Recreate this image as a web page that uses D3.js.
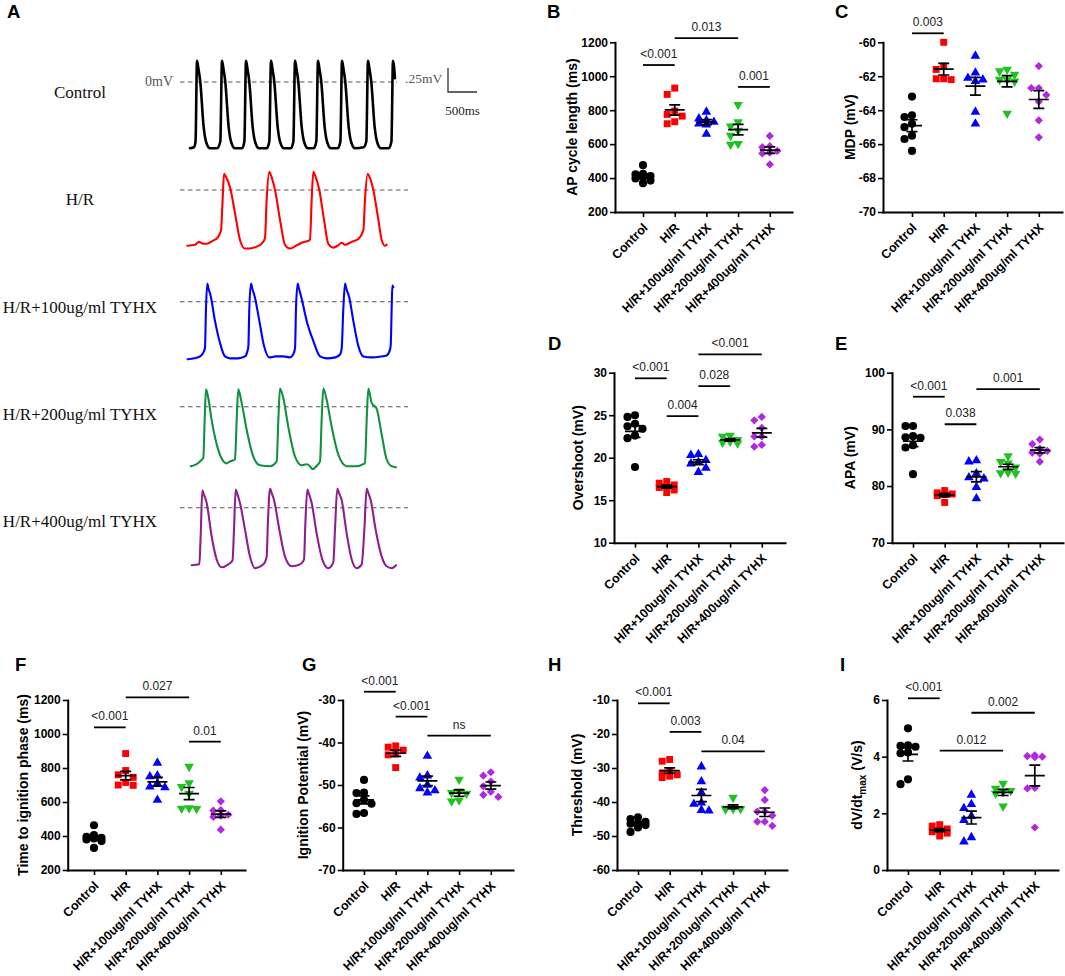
<!DOCTYPE html>
<html><head><meta charset="utf-8">
<script src="https://cdn.jsdelivr.net/npm/d3@7"></script>
<style>
body{margin:0;background:#fff}
svg{display:block}
text{font-family:"Liberation Sans",Arial,sans-serif}
</style>
</head><body>
<svg id="c" width="1065" height="976"></svg>
<script>
// ---------------- DATA ----------------
const groups = ["Control","H/R","H/R+100ug/ml TYHX","H/R+200ug/ml TYHX","H/R+400ug/ml TYHX"];

// Panel A traces: [time (ms), membrane potential (mV)]
const controlTrace = [
[172,-69],[240,-68],[268,-62],[293,22],[315,15],[350,0],[408,-47],[453,-63],[517,-69],[640,-69],[695,-62],
[724,22],[746,15],[781,0],[839,-47],[884,-63],[948,-69],[1070,-69],[1110,-62],
[1138,22],[1160,15],[1195,0],[1253,-47],[1298,-63],[1362,-69],[1495,-69],[1540,-62],
[1569,22],[1591,15],[1626,0],[1684,-47],[1729,-63],[1793,-69],[1910,-69],[1955,-62],
[1983,22],[2005,15],[2040,0],[2098,-47],[2143,-63],[2207,-69],[2305,-69],[2350,-62],
[2379,22],[2401,15],[2436,0],[2494,-47],[2539,-63],[2603,-69],[2720,-69],[2765,-62],
[2793,22],[2815,15],[2850,0],[2908,-47],[2953,-63],[3017,-69],[3165,-68],[3212,-62],
[3241,22],[3263,15],[3298,0],[3356,-47],[3401,-63],[3465,-69],[3600,-69],[3645,-62],
[3672,22],[3690,16],[3705,4]];
const hrTrace = [
[126,-58],[260,-57],[328,-54],[400,-56],[460,-56],[560,-53],[655,-49],[707,-42],[735,-10],[759,17],[790,14],[862,3],[948,-24],[1034,-52],[1121,-61],[1200,-61],[1322,-59],[1420,-55],[1465,-50],[1494,-10],[1540,19],[1570,15],[1638,0],[1724,-31],[1810,-57],[1896,-61],[2000,-58],[2098,-55],[2241,-52],[2270,-10],[2299,19],[2330,15],[2402,0],[2483,-31],[2557,-56],[2643,-60],[2720,-58],[2787,-55],[2845,-57],[2960,-54],[3074,-51],[3161,-42],[3189,-10],[3236,17],[3265,14],[3333,0],[3420,-31],[3477,-52],[3534,-58],[3563,-57]];
const t100Trace = [
[132,-60],[250,-59],[345,-57],[410,-52],[431,-48],[448,-7],[471,19],[490,14],[529,6],[603,-20],[690,-43],[776,-57],[862,-59],[1000,-59],[1121,-57],[1160,-52],[1178,-47],[1195,-7],[1224,19],[1245,14],[1293,4],[1368,-20],[1448,-46],[1540,-58],[1650,-57],[1781,-57],[1896,-58],[1965,-53],[1983,-48],[2000,-7],[2029,19],[2050,14],[2098,3],[2184,-20],[2299,-41],[2414,-57],[2529,-59],[2680,-58],[2759,-55],[2787,-49],[2816,-7],[2845,19],[2866,14],[2919,4],[2988,-20],[3074,-46],[3161,-57],[3300,-58],[3470,-57],[3563,-56],[3615,-51],[3632,-46],[3649,-7],[3661,17],[3678,15]];
const t200Trace = [
[184,-62],[280,-60],[345,-57],[402,-53],[425,-14],[448,18],[488,9],[546,-14],[632,-39],[718,-54],[804,-59],[862,-57],[948,-55],[977,-14],[1005,18],[1063,4],[1149,-24],[1264,-52],[1379,-61],[1552,-62],[1667,-57],[1695,-14],[1724,19],[1781,9],[1867,-21],[1983,-52],[2098,-61],[2184,-60],[2240,-62],[2287,-65],[2350,-62],[2414,-57],[2442,-14],[2471,19],[2529,7],[2615,-21],[2730,-50],[2874,-62],[3017,-62],[3189,-59],[3218,-14],[3247,19],[3304,4],[3390,-2],[3477,-29],[3563,-55],[3649,-62],[3724,-63]];
const t400Trace = [
[201,-60],[333,-59],[356,-30],[385,18],[410,14],[460,5],[546,-30],[632,-54],[718,-62],[833,-59],[905,-55],[931,-23],[960,19],[985,15],[1034,5],[1121,-23],[1207,-51],[1293,-63],[1437,-59],[1494,-51],[1517,-13],[1552,20],[1577,16],[1621,8],[1713,-23],[1810,-51],[1925,-61],[2069,-59],[2138,-54],[2161,-17],[2195,19],[2220,15],[2270,5],[2356,-27],[2454,-54],[2557,-63],[2643,-57],[2672,-23],[2712,20],[2737,16],[2787,8],[2874,-27],[2960,-54],[3046,-63],[3132,-59],[3178,-23],[3218,20],[3243,16],[3287,8],[3373,-23],[3477,-51],[3563,-61],[3649,-63],[3724,-60]];

// Scatter panels: one array of values per group
const apCycleLength = [
 [476,425,422,412,405,398,385,370],
 [930,893,795,775,765,732,720],
 [790,750,740,730,720,715,660],
 [832,730,705,680,650,602,598],
 [648,588,582,560,550,545,480]];
const mdp = [
 [-63.2,-64.3,-64.4,-64.8,-65.0,-65.5,-65.7,-66.4],
 [-60.0,-61.4,-61.6,-62.2,-62.15,-62.15],
 [-60.8,-61.8,-62.1,-62.2,-62.3,-64.1,-64.8],
 [-61.9,-61.7,-61.6,-62.3,-62.2,-62.2,-64.2],
 [-61.4,-62.7,-62.7,-63.1,-63.5,-64.6,-65.6]];
const overshoot = [
 [25.0,24.8,24.0,23.7,23.4,22.6,22.3,18.9],
 [17.2,17.0,16.8,16.6,16.5,16.2,15.9],
 [20.4,20.3,19.7,19.5,19.3,18.8,18.3],
 [22.6,22.5,22.1,21.9,21.8,21.7],
 [24.8,24.4,23.5,22.5,22.5,21.5,21.3]];
const apa = [
 [90.6,90.6,88.8,88.6,88.5,87.2,86.8,82.1],
 [79.2,78.8,78.6,78.5,78.3,77.1],
 [84.5,84.3,82.2,81.5,81.3,79.8,77.8],
 [85.3,84.3,84.0,83.3,82.4,82.3,82.2],
 [88.2,87.4,86.6,86.2,85.9,85.7,84.3]];
const timeToIgnition = [
 [463,405,395,390,385,380,370,330],
 [885,785,760,745,715,700,698],
 [830,755,750,710,690,685,612],
 [808,712,690,650,565,562,560],
 [604,552,550,525,520,512,437]];
const ignitionPotential = [
 [-48.8,-51.8,-51.9,-53.5,-54.3,-54.4,-56.6,-56.8],
 [-40.8,-41.1,-41.8,-42.7,-42.9,-45.9],
 [-43.2,-47.8,-48.3,-50.0,-50.8,-51.3,-51.8],
 [-48.7,-51.5,-51.8,-52.0,-53.6,-53.8],
 [-47.0,-47.8,-49.2,-50.3,-51.6,-52.3,-52.8]];
const threshold = [
 [-44.5,-45.0,-45.8,-46.2,-46.4,-46.8,-47.5,-48.8],
 [-27.5,-28.0,-31.0,-31.5,-32.0,-32.4,-32.8],
 [-29.6,-34.0,-37.2,-40.2,-40.6,-42.4,-42.6],
 [-38.7,-41.8,-41.9,-42.0,-42.0,-42.1],
 [-36.5,-39.4,-42.8,-42.8,-44.0,-45.8,-45.8,-47.0]];
const dvdtMax = [
 [5.0,4.4,4.38,4.35,4.15,4.12,3.2,3.03],
 [1.6,1.55,1.45,1.4,1.35,1.3,1.2],
 [2.65,2.32,2.18,1.9,1.76,1.15,1.0],
 [3.05,2.88,2.8,2.75,2.7,2.25],
 [4.05,4.02,4.0,3.98,2.9,2.88,1.5]];

// y-axis tick values
const ticksB = [200,400,600,800,1000,1200];
const ticksC = [-70,-68,-66,-64,-62,-60];
const ticksD = [10,15,20,25,30];
const ticksE = [70,80,90,100];
const ticksF = [200,400,600,800,1000,1200];
const ticksG = [-70,-60,-50,-40,-30];
const ticksH = [-60,-50,-40,-30,-20,-10];
const ticksI = [0,2,4,6];

// significance brackets: [group from, group to, y value, label]
const sigB = [[0,1,1066,"<0.001"],[1,3,1225,"0.013"],[3,4,937,"0.001"]];
const sigC = [[0,1,-59.47,"0.003"]];
const sigD = [[0,1,29.34,"<0.001"],[1,2,24.9,"0.004"],[2,3,28.43,"0.028"],[2,4,32.16,"<0.001"]];
const sigE = [[0,1,95.76,"<0.001"],[1,2,90.9,"0.038"],[2,4,97.1,"0.001"]];
const sigF = [[0,1,1039,"<0.001"],[1,3,1216,"0.027"],[3,4,955,"0.01"]];
const sigG = [[0,1,-28.05,"<0.001"],[1,2,-33.93,"<0.001"],[2,4,-38.4,"ns"]];
const sigH = [[0,1,-10.98,"<0.001"],[1,2,-19.4,"0.003"],[2,4,-25.1,"0.04"]];
const sigI = [[0,1,6.06,"<0.001"],[1,3,4.21,"0.012"],[2,4,5.55,"0.002"]];

// ---------------- STYLE / LAYOUT ----------------
const W = 1065, H = 976;
const svg = d3.select("#c");
svg.append("rect").attr("width",W).attr("height",H).attr("fill","#fff");

const dotColors = ["#000000","#ff0000","#0000ff","#1fc21f","#b028e0"];
const traceColors = ["#000000","#ff0000","#0000ff","#139040","#8e1f8e"];
const STEP = 31.7;

function letter(t,x,y){
  svg.append("text").attr("x",x).attr("y",y).text(t)
    .attr("font-size",18.5).attr("font-weight","bold").attr("fill","#000");
}

// ---------- Panel A ----------
letter("A",7,18);
const traces = [controlTrace,hrTrace,t100Trace,t200Trace,t400Trace];
const rowZero = [82,190,301.7,406.7,507.7];
const rowLabelY = [98,205,312.7,420,526.7];
const dashEnd = [397,408,408,408,408];
const tx = d3.scaleLinear().domain([0,3750]).range([180,180+3750/17.24]);
const serif = '"Liberation Serif","Times New Roman",serif';
traces.forEach((tr,i)=>{
  const z = rowZero[i];
  const vy = d3.scaleLinear().domain([0,25]).range([z,z-24]);
  svg.append("line").attr("x1",tx(0)).attr("x2",dashEnd[i]).attr("y1",vy(0)).attr("y2",vy(0))
    .attr("stroke","#555").attr("stroke-width",1.1).attr("stroke-dasharray","4.5,3.5");
  svg.append("path").datum(tr)
    .attr("d",d3.line().x(d=>tx(d[0])).y(d=>vy(d[1])).curve(d3.curveMonotoneX))
    .attr("fill","none").attr("stroke",traceColors[i]).attr("stroke-width",i===0?2.6:2.1)
    .attr("stroke-linejoin","round").attr("stroke-linecap","round");
  svg.append("text").attr("x",80).attr("y",rowLabelY[i]).attr("text-anchor","middle")
    .style("font-family",serif).attr("font-size",17).attr("fill","#111").text(groups[i]);
});
{
  const vy = d3.scaleLinear().domain([0,25]).range([rowZero[0],rowZero[0]-24]);
  svg.append("text").attr("x",145).attr("y",86).style("font-family",serif).attr("font-size",14).attr("fill","#555").text("0mV");
  svg.append("text").attr("x",405).attr("y",83).style("font-family",serif).attr("font-size",13.5).attr("fill","#555").text(".25mV");
  const bx = 448, by = 92;
  const barW = tx(500)-tx(0), barH = vy(0)-vy(25);
  svg.append("path").attr("d",`M${bx},${by-barH}L${bx},${by}L${bx+barW},${by}`)
    .attr("fill","none").attr("stroke","#333").attr("stroke-width",1.3);
  svg.append("text").attr("x",bx+barW/2).attr("y",115).attr("text-anchor","middle")
    .style("font-family",serif).attr("font-size",13).attr("fill","#222").text("500ms");
}

// ---------- Scatter panels ----------
const symbols = [
  {type:d3.symbolCircle,size:52,rot:0},
  {type:d3.symbolSquare,size:48,rot:0},
  {type:d3.symbolTriangle,size:40,rot:0},
  {type:d3.symbolTriangle,size:40,rot:180},
  {type:d3.symbolSquare,size:34,rot:45}];

// GraphPad-like column scatter: at most three columns (centre, left, right)
function columnScatter(pys, step, minD){
  const idx = pys.map((v,i)=>i).sort((a,b)=>pys[a]-pys[b]);
  const placed = [], off = new Array(pys.length).fill(0);
  const cands = [0,-step,step];
  idx.forEach(i=>{
    const py = pys[i];
    let best = 0, bestD = -1;
    for(const o of cands){
      const d = placed.length ? d3.min(placed,p=>Math.hypot(p[0]-o,p[1]-py)) : Infinity;
      if(d>=minD){best=o;bestD=Infinity;break;}
      if(d>bestD){bestD=d;best=o;}
    }
    off[i]=best; placed.push([best,py]);
  });
  return off;
}

function panel(c){
  letter(c.letter,c.lx,c.ly);
  const g = svg.append("g");
  const y = d3.scaleLinear().domain(c.domain).range([c.bottom,c.top]);
  const first = c.axisX + c.pad, last = first + 4*STEP;
  const x = d3.scaleLinear().domain([-c.pad/STEP, 4 + (c.end-last)/STEP]).range([c.axisX,c.end]);

  // y axis
  const ya = g.append("g").attr("transform",`translate(${c.axisX},0)`)
    .call(d3.axisLeft(y).tickValues(c.ticks).tickSize(5).tickSizeOuter(0).tickPadding(2).tickFormat(d=>String(d)));
  ya.select(".domain").attr("stroke-width",2).attr("stroke","#000").attr("stroke-linecap","square");
  ya.selectAll(".tick line").attr("stroke-width",1.6).attr("stroke","#000");
  ya.selectAll(".tick text").attr("font-size",12).attr("font-weight","bold").attr("fill","#000")
    .style("font-family",'"Liberation Sans",Arial,sans-serif');

  // x axis
  const xa = g.append("g").attr("transform",`translate(0,${c.bottom})`)
    .call(d3.axisBottom(x).tickValues([0,1,2,3,4]).tickSize(5).tickSizeOuter(0).tickFormat(i=>groups[i]));
  xa.select(".domain").attr("stroke-width",2).attr("stroke","#000").attr("stroke-linecap","square");
  xa.selectAll(".tick line").attr("stroke-width",1.6).attr("stroke","#000");
  xa.selectAll(".tick text").attr("font-size",12.5).attr("font-weight","bold").attr("fill","#000")
    .style("font-family",'"Liberation Sans",Arial,sans-serif')
    .attr("x",0).attr("y",0).attr("dy",0)
    .attr("text-anchor","end")
    .attr("transform","translate(5,16.5) rotate(-45)");

  // y title
  const t = g.append("text").attr("transform",`translate(${c.titleX},${(c.top+c.bottom)/2}) rotate(-90)`)
    .attr("text-anchor","middle").attr("font-size",14).attr("font-weight","bold").attr("fill","#000");
  if(c.titleSub){
    t.append("tspan").text(c.title[0]);
    t.append("tspan").text(c.titleSub).attr("font-size",10).attr("dy",4);
    t.append("tspan").text(c.title[1]).attr("dy",-4);
  } else t.text(c.title);

  // points
  c.data.forEach((vals,gi)=>{
    const pys = vals.map(v=>y(v));
    const offs = columnScatter(pys, 7.5, 7.2);
    const s = symbols[gi];
    const sym = d3.symbol().type(s.type).size(s.size);
    g.append("g").selectAll("path").data(vals).join("path")
      .attr("d",sym())
      .attr("transform",(v,i)=>`translate(${x(gi)+offs[i]},${y(v)}) rotate(${s.rot})`)
      .attr("fill",dotColors[gi]);
  });
  // mean +- SEM
  c.data.forEach((vals,gi)=>{
    const m = d3.mean(vals), se = d3.deviation(vals)/Math.sqrt(vals.length);
    const cx = x(gi);
    const p = `M${cx-10},${y(m)}H${cx+10}M${cx},${y(m-se)}V${y(m+se)}M${cx-5.5},${y(m-se)}H${cx+5.5}M${cx-5.5},${y(m+se)}H${cx+5.5}`;
    g.append("path").attr("d",p).attr("stroke","#000").attr("stroke-width",1.7).attr("fill","none");
  });
  // significance
  c.sig.forEach(([a,b,v,lab])=>{
    const yy = y(v);
    g.append("line").attr("x1",x(a)).attr("x2",x(b)).attr("y1",yy).attr("y2",yy)
      .attr("stroke","#000").attr("stroke-width",1.8);
    g.append("text").attr("x",(x(a)+x(b))/2).attr("y",yy-7).attr("text-anchor","middle")
      .attr("font-size",12).attr("fill","#222").text(lab);
  });
}

const rowTop = [42.3,372.7,700], rowBot = [212,542.7,870];
panel({letter:"B",lx:547,ly:18,data:apCycleLength,domain:[200,1200],ticks:ticksB,sig:sigB,title:"AP cycle length (ms)",
  axisX:615,pad:28,end:792,top:rowTop[0],bottom:rowBot[0],titleX:577});
panel({letter:"C",lx:835,ly:18,data:mdp,domain:[-70,-60],ticks:ticksC,sig:sigC,title:"MDP (mV)",
  axisX:883,pad:29,end:1062,top:rowTop[0],bottom:rowBot[0],titleX:855});
panel({letter:"D",lx:548,ly:350,data:overshoot,domain:[10,30],ticks:ticksD,sig:sigD,title:"Overshoot (mV)",
  axisX:614,pad:21,end:785,top:rowTop[1],bottom:rowBot[1],titleX:583});
panel({letter:"E",lx:835,ly:350,data:apa,domain:[70,100],ticks:ticksE,sig:sigE,title:"APA (mV)",
  axisX:892,pad:21,end:1063,top:rowTop[1],bottom:rowBot[1],titleX:855});
panel({letter:"F",lx:15,ly:671,data:timeToIgnition,domain:[200,1200],ticks:ticksF,sig:sigF,title:"Time to ignition phase (ms)",
  axisX:67.7,pad:26.3,end:245,top:rowTop[2],bottom:rowBot[2],titleX:28});
panel({letter:"G",lx:302,ly:671,data:ignitionPotential,domain:[-70,-30],ticks:ticksG,sig:sigG,title:"Ignition Potential (mV)",
  axisX:342.7,pad:21.3,end:513,top:rowTop[2],bottom:rowBot[2],titleX:308});
panel({letter:"H",lx:548,ly:671,data:threshold,domain:[-60,-10],ticks:ticksH,sig:sigH,title:"Threshold (mV)",
  axisX:617,pad:21,end:787,top:rowTop[2],bottom:rowBot[2],titleX:582});
panel({letter:"I",lx:840,ly:671,data:dvdtMax,domain:[0,6],ticks:ticksI,sig:sigI,title:["dV/dt"," (V/s)"],titleSub:"max",
  axisX:887,pad:21,end:1058,top:rowTop[2],bottom:rowBot[2],titleX:862});
</script>
</body></html>
